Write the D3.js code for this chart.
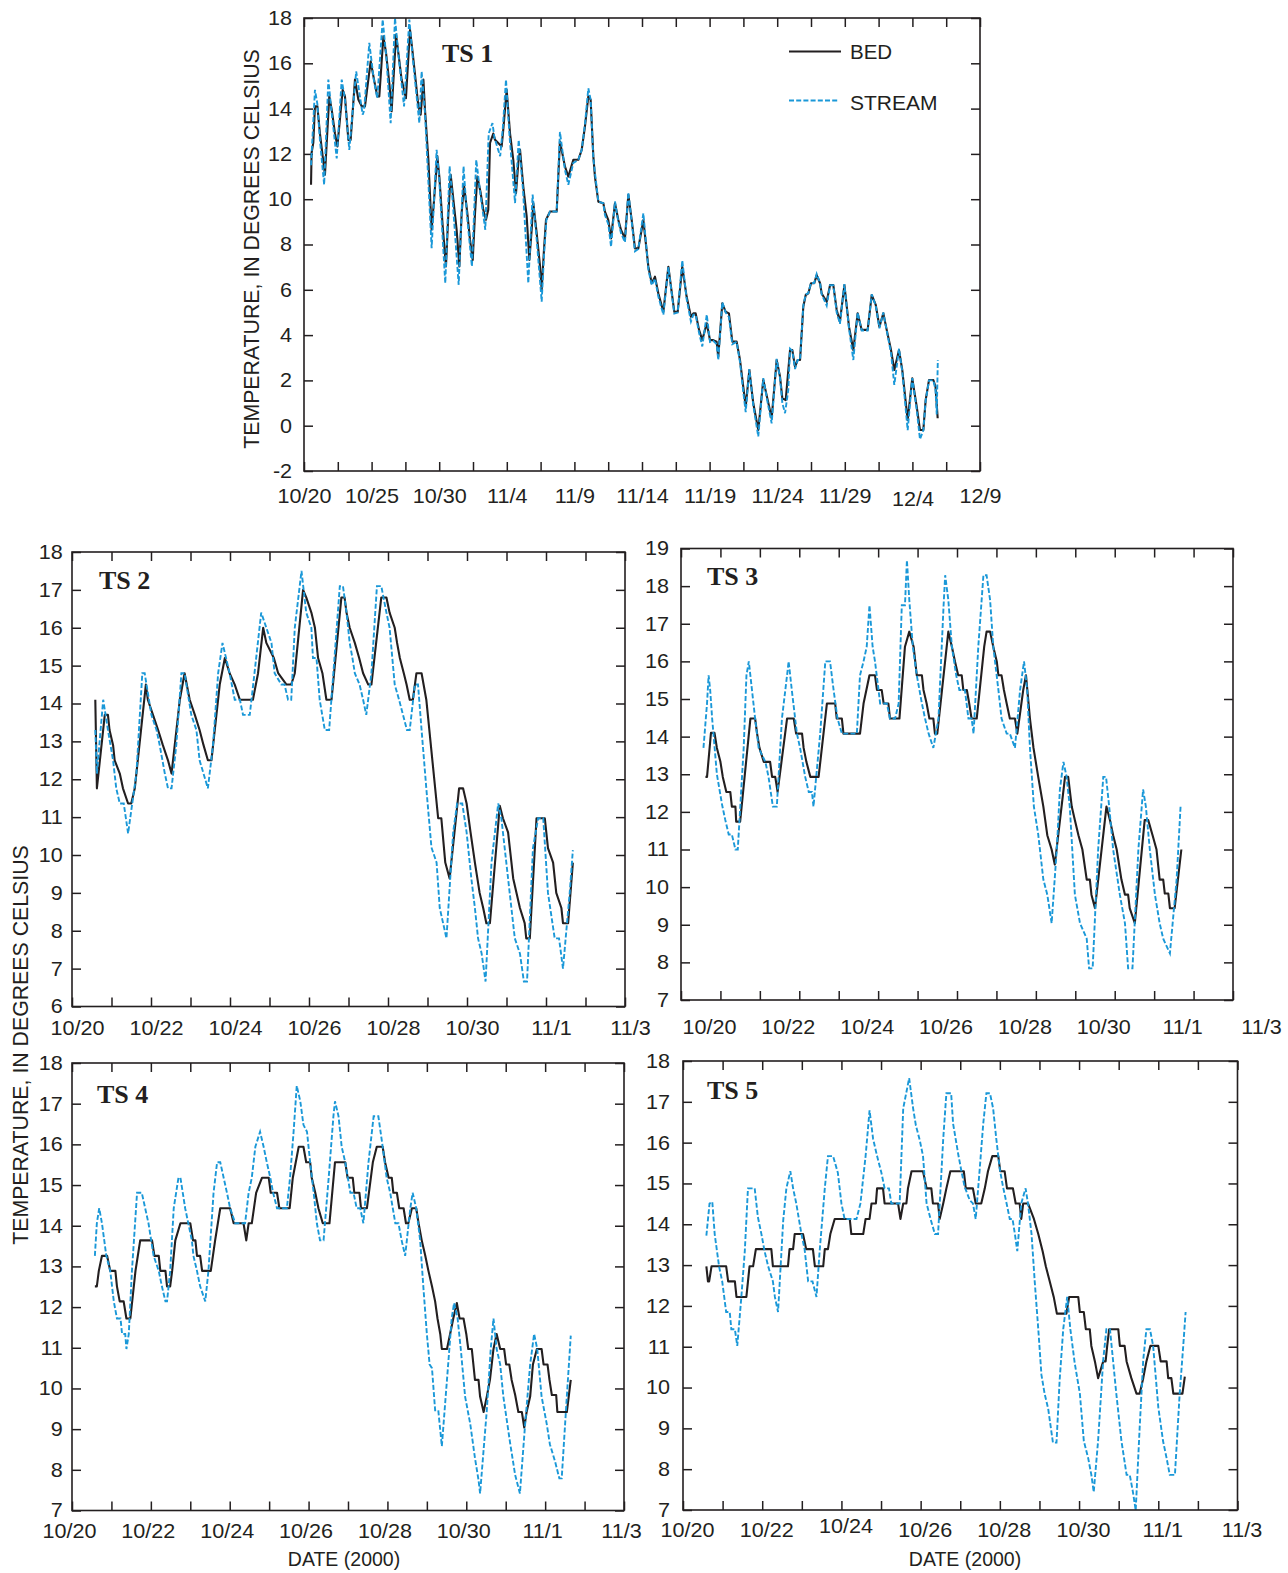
<!DOCTYPE html>
<html>
<head>
<meta charset="utf-8">
<script src="https://cdnjs.cloudflare.com/ajax/libs/d3/7.8.5/d3.min.js"></script>
<style>
  body { margin: 0; background: #fff; }
  .axis text { font-family: "Liberation Sans", Arial, sans-serif; font-size: 20px; fill: #231f20; }
  .axis line { stroke: #231f20; stroke-width: 1.5; }
  .title { font-family: "Liberation Serif", "Times New Roman", serif; font-weight: bold; font-size: 26px; fill: #231f20; }
  .label { font-family: "Liberation Sans", Arial, sans-serif; fill: #231f20; }
</style>
</head>
<body>
<script>
// Date labels and tick values (x in days after 10/20 00:00)
var ts1DateLabels = ["10/20", "10/25", "10/30", "11/4", "11/9", "11/14", "11/19", "11/24", "11/29", "12/4", "12/9"];
var ts1LabelDays = [0, 5, 10, 15, 20, 25, 30, 35, 40, 45, 50];
var shortDateLabels = ["10/20", "10/22", "10/24", "10/26", "10/28", "10/30", "11/1", "11/3"];
var shortLabelDays = [0, 2, 4, 6, 8, 10, 12, 14];

var ts1TempTicks = [-2, 0, 2, 4, 6, 8, 10, 12, 14, 16, 18];
var ts2TempTicks = [6, 7, 8, 9, 10, 11, 12, 13, 14, 15, 16, 17, 18];
var ts3TempTicks = [7, 8, 9, 10, 11, 12, 13, 14, 15, 16, 17, 18, 19];
var ts45TempTicks = [7, 8, 9, 10, 11, 12, 13, 14, 15, 16, 17, 18];

// [day, temperature]
var ts1Bed = [[0.52,10.64],[0.56,12.04],[0.69,12.5],[0.81,14.1],[0.99,14.1],[1.18,12.9],[1.38,11.9],[1.55,11.08],[1.87,14.54],[2.05,13.95],[2.29,12.9],[2.47,12.33],[2.86,14.83],[3.03,14.54],[3.28,12.62],[3.45,12.62],[3.77,15.28],[4.02,14.4],[4.27,14.1],[4.51,14.1],[4.93,16.09],[5.18,15.28],[5.42,14.54],[5.57,14.54],[5.87,17.19],[6.07,16.45],[6.31,15.13],[6.48,13.88],[6.81,17.26],[6.98,16.45],[7.22,15.28],[7.54,14.46],[7.84,17.48],[8.04,16.45],[8.28,15.13],[8.46,14.1],[8.63,13.73],[8.83,15.28],[8.95,13.95],[9.2,11.74],[9.44,8.65],[9.62,9.97],[9.86,11.9],[10.01,11.0],[10.26,8.8],[10.5,7.03],[10.68,9.38],[10.85,11.08],[11.05,9.97],[11.29,8.65],[11.49,7.03],[11.66,9.38],[11.83,10.64],[12.08,9.38],[12.28,8.2],[12.48,7.32],[12.65,9.38],[12.82,11.0],[13.07,10.27],[13.26,9.53],[13.46,9.09],[13.63,9.53],[13.76,12.48],[14.0,12.9],[14.13,12.62],[14.62,12.33],[14.74,13.07],[14.99,14.83],[15.24,12.9],[15.48,11.74],[15.68,10.27],[15.85,11.6],[15.98,12.18],[16.22,10.56],[16.47,9.24],[16.67,7.32],[16.84,8.65],[16.96,9.83],[17.21,8.5],[17.46,7.03],[17.58,6.0],[17.75,7.77],[17.9,9.09],[18.2,9.46],[18.69,9.46],[18.93,12.55],[19.3,11.45],[19.55,11.0],[19.92,11.74],[20.29,11.74],[20.54,12.18],[20.78,13.2],[21.03,14.54],[21.2,14.4],[21.4,11.9],[21.52,10.99],[21.77,9.89],[22.14,9.82],[22.26,9.45],[22.51,9.08],[22.71,8.27],[23.0,9.82],[23.25,9.08],[23.45,8.64],[23.74,8.27],[23.99,10.19],[24.24,9.08],[24.48,7.83],[24.73,7.83],[25.1,9.08],[25.47,7.02],[25.72,6.29],[25.96,6.58],[26.21,5.84],[26.58,5.03],[26.95,7.02],[27.39,5.03],[27.64,5.03],[27.98,7.02],[28.3,5.7],[28.62,4.81],[28.8,4.96],[28.97,4.96],[29.22,4.23],[29.46,3.78],[29.79,4.52],[30.03,3.78],[30.27,3.78],[30.52,3.71],[30.64,3.05],[30.94,5.4],[31.19,5.03],[31.43,4.96],[31.68,3.71],[32.0,3.71],[32.25,2.9],[32.49,1.72],[32.67,0.84],[32.94,2.46],[33.23,0.99],[33.6,-0.19],[33.97,2.02],[34.3,1.13],[34.59,0.33],[34.96,2.9],[35.21,2.16],[35.38,1.21],[35.63,1.13],[35.95,3.34],[36.12,3.34],[36.32,2.6],[36.51,2.9],[36.69,2.9],[36.93,5.25],[37.11,5.77],[37.3,5.84],[37.5,6.29],[37.74,6.29],[37.92,6.65],[38.17,6.29],[38.29,5.84],[38.66,5.47],[38.91,6.21],[39.15,6.21],[39.4,5.11],[39.64,4.59],[39.97,6.21],[40.31,4.37],[40.63,3.34],[40.95,4.96],[41.25,4.23],[41.69,4.23],[41.99,5.77],[42.29,5.33],[42.56,4.37],[42.85,4.96],[43.1,4.23],[43.42,3.34],[43.66,2.46],[44.01,3.34],[44.25,2.46],[44.65,0.25],[44.99,2.09],[45.32,0.84],[45.56,-0.19],[45.81,-0.19],[45.98,1.13],[46.23,2.02],[46.55,2.02],[46.71,1.72],[46.87,0.33]];
var ts1Stream = [[0.52,11.5],[0.81,14.83],[0.99,14.2],[1.18,12.6],[1.49,10.64],[1.8,15.28],[2.05,13.8],[2.42,11.8],[2.79,15.28],[3.03,14.4],[3.35,12.18],[3.86,15.64],[4.34,13.73],[4.44,13.9],[4.83,16.9],[5.18,15.2],[5.42,14.46],[5.82,17.93],[6.1,16.2],[6.41,13.36],[6.73,18.0],[7.0,16.3],[7.4,14.1],[7.79,17.93],[8.05,16.2],[8.53,13.36],[8.7,15.64],[8.95,13.8],[9.44,7.84],[9.81,12.18],[10.0,10.9],[10.45,6.29],[10.77,11.45],[11.0,9.9],[11.44,6.22],[11.8,11.45],[12.05,9.3],[12.42,7.03],[12.74,11.74],[13.05,10.2],[13.41,8.65],[13.66,12.9],[13.94,13.36],[14.09,12.7],[14.51,11.9],[14.7,13.1],[14.94,15.28],[15.2,12.8],[15.61,9.83],[15.88,12.62],[16.2,10.4],[16.59,6.29],[16.91,10.2],[17.2,8.3],[17.58,5.48],[17.76,7.6],[17.93,9.09],[18.2,9.46],[18.69,9.46],[18.93,12.97],[19.3,11.3],[19.55,10.64],[19.92,11.6],[20.29,11.74],[20.54,12.18],[20.78,13.3],[21.03,14.9],[21.2,14.4],[21.4,11.8],[21.65,10.5],[21.77,9.9],[22.14,9.82],[22.26,9.3],[22.51,8.9],[22.71,7.9],[23.0,9.9],[23.25,9.0],[23.45,8.5],[23.74,8.1],[23.99,10.3],[24.24,9.0],[24.48,7.7],[24.73,7.8],[25.1,9.38],[25.47,6.9],[25.72,6.2],[25.96,6.5],[26.21,5.7],[26.58,4.9],[26.95,7.0],[27.39,4.95],[27.64,5.0],[27.98,7.3],[28.3,5.6],[28.62,4.6],[28.8,4.9],[28.97,4.9],[29.22,4.1],[29.46,3.5],[29.79,4.9],[30.03,3.7],[30.27,3.75],[30.52,3.6],[30.64,2.9],[30.94,5.45],[31.19,5.0],[31.43,4.8],[31.68,3.6],[32.0,3.7],[32.25,2.8],[32.49,1.5],[32.67,0.6],[32.94,2.5],[33.23,0.9],[33.6,-0.48],[33.97,2.1],[34.3,1.0],[34.59,0.1],[34.96,2.95],[35.21,2.1],[35.38,1.0],[35.58,0.55],[35.82,1.58],[35.95,3.4],[36.12,3.3],[36.32,2.5],[36.51,2.9],[36.69,2.9],[36.93,5.3],[37.11,5.8],[37.3,5.85],[37.5,6.3],[37.74,6.3],[37.92,6.7],[38.17,6.3],[38.29,5.8],[38.66,5.3],[38.91,6.2],[39.15,6.2],[39.4,5.0],[39.64,4.5],[39.97,6.25],[40.31,4.3],[40.63,2.9],[40.95,5.0],[41.25,4.2],[41.69,4.2],[41.99,5.8],[42.29,5.3],[42.56,4.3],[42.85,5.0],[43.1,4.2],[43.42,3.2],[43.66,1.8],[44.01,3.4],[44.25,2.4],[44.65,-0.2],[44.99,2.1],[45.32,0.7],[45.56,-0.6],[45.81,-0.2],[45.98,1.1],[46.23,2.0],[46.55,2.0],[46.71,1.6],[46.8,0.5],[46.88,2.9]];

var ts2Bed = [[0.59,14.1],[0.63,11.76],[0.83,13.7],[0.91,13.7],[0.95,13.3],[1.04,12.9],[1.08,12.5],[1.21,12.15],[1.29,11.76],[1.42,11.36],[1.5,11.36],[1.59,11.76],[1.87,14.5],[1.92,14.1],[2.05,13.7],[2.18,13.3],[2.3,12.9],[2.43,12.5],[2.52,12.15],[2.73,14.1],[2.85,14.8],[2.98,14.1],[3.11,13.7],[3.23,13.3],[3.33,12.9],[3.44,12.5],[3.53,12.5],[3.74,14.5],[3.87,15.2],[3.99,14.8],[4.12,14.5],[4.25,14.1],[4.58,14.1],[4.71,14.8],[4.84,16.0],[4.92,15.6],[5.11,15.2],[5.22,14.8],[5.43,14.5],[5.55,14.5],[5.64,14.8],[5.85,17.0],[5.93,16.8],[6.06,16.4],[6.15,16.0],[6.23,15.2],[6.34,14.8],[6.44,14.1],[6.57,14.1],[6.82,16.8],[6.9,16.8],[6.95,16.4],[7.03,16.0],[7.16,15.6],[7.27,15.2],[7.37,14.8],[7.5,14.5],[7.58,14.5],[7.83,16.8],[7.96,16.8],[8.04,16.4],[8.17,16.0],[8.23,15.6],[8.3,15.2],[8.4,14.8],[8.47,14.5],[8.55,14.1],[8.63,14.1],[8.72,14.8],[8.85,14.8],[8.97,14.1],[9.27,10.97],[9.35,10.97],[9.45,9.8],[9.56,9.38],[9.8,11.76],[9.9,11.76],[9.99,11.36],[10.09,10.6],[10.2,9.8],[10.32,9.0],[10.41,8.6],[10.49,8.2],[10.58,8.2],[10.83,11.3],[10.91,10.97],[11.04,10.6],[11.17,9.38],[11.34,8.6],[11.46,8.2],[11.5,7.8],[11.59,7.8],[11.76,10.97],[11.97,10.97],[12.05,10.18],[12.18,9.8],[12.26,9.0],[12.39,8.6],[12.43,8.2],[12.56,8.2],[12.68,9.8]];
var ts2Stream = [[0.59,13.3],[0.63,12.15],[0.79,14.1],[0.91,13.3],[1.04,12.5],[1.12,11.76],[1.21,11.36],[1.31,11.36],[1.42,10.57],[1.63,12.15],[1.78,14.8],[1.84,14.8],[2.01,13.7],[2.14,13.3],[2.22,12.9],[2.35,12.15],[2.43,11.76],[2.52,11.76],[2.64,12.9],[2.77,14.8],[2.85,14.8],[3.02,13.7],[3.15,13.3],[3.23,12.5],[3.33,12.15],[3.44,11.76],[3.57,12.9],[3.7,14.8],[3.81,15.6],[3.99,14.8],[4.12,14.1],[4.25,14.1],[4.33,13.7],[4.5,13.7],[4.62,14.8],[4.79,16.4],[4.92,16.0],[5.05,15.6],[5.13,14.8],[5.3,14.5],[5.38,14.5],[5.47,14.1],[5.55,14.1],[5.64,16.0],[5.81,17.5],[5.93,16.4],[6.06,16.0],[6.1,15.2],[6.19,15.2],[6.27,14.1],[6.4,13.3],[6.51,13.3],[6.78,17.1],[6.86,17.1],[6.95,16.4],[7.03,15.6],[7.1,15.2],[7.16,14.8],[7.28,14.5],[7.37,14.1],[7.45,13.7],[7.58,14.8],[7.72,17.1],[7.83,17.1],[7.96,16.4],[8.04,16.0],[8.17,14.5],[8.28,14.1],[8.38,13.7],[8.48,13.3],[8.55,13.3],[8.68,14.5],[8.76,14.5],[8.85,13.3],[8.97,11.76],[9.1,10.2],[9.23,9.8],[9.31,8.6],[9.48,7.8],[9.65,10.6],[9.75,11.36],[9.88,11.36],[9.99,10.6],[10.11,9.38],[10.2,8.6],[10.28,7.8],[10.37,7.4],[10.47,6.66],[10.62,9.8],[10.79,11.36],[10.87,10.97],[11.04,9.38],[11.21,7.8],[11.34,7.4],[11.44,6.66],[11.52,6.66],[11.67,10.18],[11.8,10.97],[11.93,10.97],[12.05,9.0],[12.22,7.8],[12.33,7.8],[12.43,7.0],[12.6,9.0],[12.68,10.13]];

var ts3Bed = [[0.62,12.93],[0.66,12.93],[0.76,14.1],[0.85,14.1],[0.91,13.7],[1.0,13.33],[1.06,12.93],[1.15,12.53],[1.25,12.53],[1.29,12.14],[1.38,12.14],[1.4,11.74],[1.5,11.74],[1.76,14.48],[1.88,14.48],[1.93,14.08],[1.99,13.7],[2.1,13.33],[2.26,13.33],[2.31,12.93],[2.39,12.93],[2.45,12.53],[2.69,14.48],[2.86,14.48],[2.92,14.08],[3.07,14.08],[3.11,13.7],[3.18,13.33],[3.28,12.93],[3.49,12.93],[3.7,14.88],[3.91,14.88],[3.95,14.48],[4.08,14.48],[4.12,14.08],[4.54,14.08],[4.63,14.88],[4.78,15.63],[4.92,15.63],[4.97,15.24],[5.09,15.24],[5.14,14.88],[5.26,14.88],[5.3,14.48],[5.54,14.48],[5.68,16.39],[5.79,16.79],[5.9,16.39],[5.98,15.63],[6.11,15.63],[6.15,15.24],[6.23,14.88],[6.3,14.48],[6.4,14.48],[6.44,14.08],[6.5,14.08],[6.78,16.79],[6.87,16.39],[6.95,15.99],[7.03,15.63],[7.12,15.63],[7.16,15.24],[7.25,15.24],[7.31,14.88],[7.37,14.48],[7.5,14.48],[7.69,16.39],[7.75,16.79],[7.84,16.79],[7.92,16.39],[8.01,15.99],[8.05,15.63],[8.13,15.63],[8.19,15.24],[8.26,14.88],[8.34,14.48],[8.47,14.48],[8.53,14.08],[8.68,15.24],[8.75,15.63],[8.85,14.48],[8.94,13.7],[9.06,12.93],[9.19,12.14],[9.29,11.38],[9.4,11.0],[9.48,10.6],[9.74,12.93],[9.82,12.93],[9.91,12.14],[9.99,11.78],[10.08,11.38],[10.18,11.0],[10.29,10.2],[10.37,10.2],[10.41,9.8],[10.5,9.44],[10.79,12.14],[10.88,11.78],[10.96,11.38],[11.05,11.0],[11.17,10.2],[11.26,9.8],[11.34,9.8],[11.38,9.44],[11.51,9.04],[11.76,11.78],[11.85,11.78],[11.96,11.38],[12.06,11.0],[12.14,10.2],[12.23,10.2],[12.27,9.83],[12.36,9.83],[12.4,9.44],[12.52,9.44],[12.69,11.0]];
var ts3Stream = [[0.57,13.7],[0.66,14.88],[0.7,15.63],[0.74,15.24],[0.79,14.48],[0.91,13.0],[1.04,12.2],[1.12,11.8],[1.21,11.4],[1.29,11.4],[1.38,11.0],[1.44,11.0],[1.59,13.7],[1.66,15.63],[1.72,16.0],[1.8,15.24],[1.88,14.48],[1.97,13.7],[2.14,13.33],[2.22,12.93],[2.33,12.14],[2.43,12.14],[2.56,14.48],[2.69,15.63],[2.73,16.0],[2.81,15.24],[2.94,14.08],[3.02,13.7],[3.15,12.93],[3.24,12.53],[3.32,12.53],[3.36,12.14],[3.53,14.08],[3.66,16.0],[3.78,16.0],[3.87,15.24],[3.97,14.48],[4.08,14.08],[4.46,14.08],[4.54,15.63],[4.63,16.0],[4.71,16.39],[4.78,17.49],[4.86,16.39],[4.92,16.0],[5.01,15.24],[5.05,14.88],[5.22,14.88],[5.3,14.48],[5.43,14.48],[5.52,14.88],[5.6,17.49],[5.68,17.49],[5.73,18.69],[5.79,17.63],[5.88,16.39],[5.98,15.63],[6.11,14.88],[6.19,14.48],[6.28,14.08],[6.4,13.7],[6.53,14.48],[6.66,17.49],[6.7,18.29],[6.78,17.63],[6.87,16.39],[6.98,15.63],[7.06,15.24],[7.2,15.24],[7.29,14.48],[7.37,14.48],[7.42,14.08],[7.54,16.39],[7.67,18.29],[7.75,18.29],[7.84,17.63],[7.92,16.39],[8.05,15.24],[8.13,14.48],[8.26,14.08],[8.34,14.08],[8.47,13.7],[8.6,15.24],[8.7,16.0],[8.78,15.24],[8.85,13.7],[8.95,12.14],[9.06,11.4],[9.19,10.2],[9.29,9.8],[9.4,9.04],[9.53,11.0],[9.61,12.6],[9.7,13.33],[9.78,12.93],[9.86,12.14],[9.99,9.8],[10.12,9.04],[10.29,8.63],[10.35,7.84],[10.44,7.84],[10.58,11.0],[10.71,12.93],[10.78,12.93],[10.86,12.14],[10.96,11.0],[11.13,9.8],[11.26,9.04],[11.34,7.84],[11.45,7.84],[11.6,11.0],[11.72,12.6],[11.79,12.14],[11.89,11.0],[12.02,9.8],[12.14,9.04],[12.23,8.63],[12.4,8.24],[12.57,10.2],[12.67,12.14]];

var ts4Bed = [[0.58,12.51],[0.63,12.51],[0.68,12.89],[0.76,13.26],[0.89,13.26],[0.97,12.89],[1.1,12.89],[1.14,12.51],[1.21,12.14],[1.31,12.14],[1.38,11.72],[1.48,11.72],[1.61,12.89],[1.73,13.64],[2.03,13.64],[2.09,13.26],[2.2,13.26],[2.24,12.89],[2.37,12.89],[2.41,12.51],[2.49,12.51],[2.54,12.89],[2.62,13.64],[2.75,14.06],[3.0,14.06],[3.07,13.64],[3.13,13.64],[3.17,13.26],[3.25,13.26],[3.3,12.89],[3.52,12.89],[3.63,13.64],[3.76,14.43],[4.01,14.43],[4.1,14.06],[4.35,14.06],[4.42,13.64],[4.48,14.06],[4.56,14.06],[4.67,14.81],[4.82,15.18],[4.99,15.18],[5.04,14.81],[5.2,14.81],[5.26,14.43],[5.52,14.43],[5.6,15.18],[5.75,15.94],[5.87,15.94],[5.94,15.56],[6.04,15.56],[6.08,15.18],[6.17,14.81],[6.25,14.43],[6.36,14.06],[6.53,14.06],[6.67,15.56],[6.93,15.56],[6.99,15.18],[7.12,15.18],[7.16,14.81],[7.29,14.81],[7.33,14.43],[7.48,14.43],[7.63,15.56],[7.73,15.94],[7.88,15.94],[7.94,15.56],[8.03,15.18],[8.11,15.18],[8.15,14.81],[8.24,14.81],[8.3,14.43],[8.41,14.43],[8.47,14.06],[8.53,14.06],[8.62,14.43],[8.73,14.43],[8.79,14.06],[8.87,13.64],[8.96,13.26],[9.04,12.89],[9.13,12.51],[9.21,12.14],[9.27,11.72],[9.34,11.34],[9.38,10.97],[9.51,10.97],[9.59,11.34],[9.67,11.72],[9.76,12.1],[9.83,11.72],[9.93,11.72],[10.0,11.34],[10.05,10.97],[10.14,10.97],[10.22,10.21],[10.31,10.21],[10.35,9.8],[10.44,9.42],[10.52,9.8],[10.6,10.21],[10.69,10.97],[10.77,11.34],[10.86,10.97],[10.96,10.97],[11.01,10.59],[11.09,10.59],[11.15,10.21],[11.24,9.84],[11.32,9.42],[11.41,9.42],[11.47,9.04],[11.53,9.42],[11.62,9.8],[11.69,10.59],[11.79,10.97],[11.91,10.97],[11.96,10.59],[12.06,10.59],[12.11,10.21],[12.17,9.84],[12.28,9.84],[12.31,9.42],[12.55,9.42],[12.65,10.21]];
var ts4Stream = [[0.58,13.26],[0.63,14.06],[0.69,14.43],[0.76,14.06],[0.87,13.26],[0.97,12.89],[1.06,12.14],[1.14,11.72],[1.23,11.72],[1.27,11.34],[1.35,11.34],[1.38,10.97],[1.44,11.34],[1.52,12.89],[1.65,14.81],[1.77,14.81],[1.94,14.06],[2.07,13.26],[2.2,12.89],[2.28,12.51],[2.37,12.14],[2.41,12.14],[2.49,12.89],[2.58,14.43],[2.7,15.18],[2.75,15.18],[2.87,14.43],[3.04,13.64],[3.08,13.26],[3.17,12.89],[3.25,12.51],[3.38,12.14],[3.46,12.89],[3.59,14.81],[3.68,15.56],[3.76,15.56],[3.93,14.81],[4.01,14.43],[4.14,14.06],[4.39,14.06],[4.48,14.81],[4.56,15.18],[4.65,15.94],[4.77,16.31],[4.86,15.94],[4.94,15.56],[5.03,15.18],[5.1,14.81],[5.2,14.43],[5.45,14.43],[5.53,15.18],[5.62,16.31],[5.7,17.44],[5.79,17.06],[5.87,16.48],[5.96,16.31],[6.04,15.56],[6.13,14.81],[6.21,14.06],[6.29,13.64],[6.38,13.64],[6.51,15.18],[6.63,16.69],[6.67,17.06],[6.76,16.69],[6.84,15.94],[6.93,15.56],[7.06,14.81],[7.14,14.81],[7.22,14.43],[7.31,14.43],[7.39,14.06],[7.52,15.56],[7.65,16.69],[7.77,16.69],[7.88,15.94],[7.98,15.18],[8.07,14.81],[8.2,14.06],[8.28,14.06],[8.36,13.64],[8.45,13.26],[8.58,14.43],[8.64,14.81],[8.73,14.43],[8.83,13.64],[8.91,12.51],[9.0,11.34],[9.07,10.59],[9.13,10.5],[9.21,9.46],[9.29,9.46],[9.38,8.58],[9.51,10.21],[9.63,11.72],[9.69,12.1],[9.78,11.72],[9.86,10.97],[9.97,9.8],[10.1,9.13],[10.22,8.29],[10.31,7.75],[10.35,7.42],[10.52,9.46],[10.62,10.97],[10.69,11.72],[10.77,10.97],[10.86,10.59],[10.94,9.8],[11.11,8.67],[11.24,7.87],[11.36,7.42],[11.49,9.09],[11.62,10.59],[11.72,11.34],[11.8,10.97],[11.91,9.8],[12.04,9.13],[12.12,8.63],[12.25,8.21],[12.36,7.79],[12.42,7.79],[12.55,9.8],[12.65,11.3]];

var ts5Bed = [[0.59,12.97],[0.63,12.6],[0.66,12.6],[0.72,12.97],[1.09,12.97],[1.14,12.6],[1.31,12.6],[1.35,12.22],[1.6,12.22],[1.68,12.97],[1.77,12.97],[1.84,13.39],[2.23,13.39],[2.27,12.97],[2.65,12.97],[2.69,13.39],[2.78,13.39],[2.82,13.76],[3.03,13.76],[3.11,13.39],[3.28,13.39],[3.33,12.97],[3.54,12.97],[3.58,13.39],[3.66,13.39],[3.72,13.76],[3.83,14.13],[4.21,14.13],[4.25,13.76],[4.55,13.76],[4.61,14.13],[4.71,14.13],[4.76,14.51],[4.87,14.51],[4.9,14.88],[5.05,14.88],[5.09,14.51],[5.43,14.51],[5.49,14.13],[5.56,14.51],[5.64,14.51],[5.68,14.88],[5.77,15.3],[6.06,15.3],[6.15,14.88],[6.27,14.88],[6.31,14.51],[6.44,14.51],[6.48,14.13],[6.57,14.51],[6.65,14.88],[6.75,15.3],[7.09,15.3],[7.14,14.88],[7.32,14.88],[7.39,14.51],[7.53,14.51],[7.62,14.88],[7.7,15.3],[7.81,15.67],[7.96,15.67],[8.01,15.3],[8.12,15.3],[8.18,14.88],[8.33,14.88],[8.4,14.51],[8.5,14.51],[8.54,14.13],[8.59,14.51],[8.71,14.51],[8.86,14.13],[8.97,13.76],[9.08,13.34],[9.16,12.97],[9.26,12.6],[9.36,12.22],[9.44,11.81],[9.68,11.81],[9.75,12.22],[9.98,12.22],[10.02,11.85],[10.12,11.85],[10.17,11.43],[10.27,11.43],[10.31,11.02],[10.4,10.64],[10.48,10.23],[10.61,10.64],[10.67,10.64],[10.71,11.02],[10.76,11.43],[10.99,11.43],[11.03,11.02],[11.15,11.02],[11.2,10.64],[11.32,10.23],[11.45,9.85],[11.53,9.85],[11.62,10.23],[11.7,10.64],[11.8,11.02],[12.0,11.02],[12.06,10.64],[12.21,10.64],[12.25,10.23],[12.33,10.23],[12.38,9.85],[12.61,9.85],[12.67,10.27]];
var ts5Stream = [[0.59,13.72],[0.67,14.51],[0.74,14.55],[0.8,13.76],[0.91,12.97],[0.99,12.6],[1.09,11.85],[1.18,11.85],[1.22,11.43],[1.31,11.43],[1.37,11.02],[1.47,12.18],[1.56,13.34],[1.64,14.88],[1.81,14.88],[1.89,14.18],[1.98,13.76],[2.06,13.34],[2.15,12.97],[2.27,12.6],[2.32,12.22],[2.4,11.85],[2.53,14.09],[2.61,14.88],[2.71,15.3],[2.78,14.88],[2.86,14.51],[2.99,13.76],[3.07,13.39],[3.16,12.6],[3.27,12.6],[3.37,12.22],[3.45,13.34],[3.58,14.88],[3.66,15.67],[3.79,15.67],[3.91,15.26],[4.0,14.51],[4.08,14.13],[4.38,14.13],[4.48,14.51],[4.61,15.67],[4.71,16.79],[4.8,16.09],[4.9,15.67],[5.01,15.26],[5.09,14.88],[5.2,14.88],[5.26,14.51],[5.47,14.51],[5.56,16.84],[5.71,17.58],[5.81,16.84],[5.88,16.42],[5.98,16.05],[6.06,15.67],[6.15,14.51],[6.25,14.13],[6.36,13.76],[6.44,13.76],[6.57,16.09],[6.65,17.21],[6.77,17.21],[6.82,16.46],[6.95,15.71],[7.03,15.3],[7.11,14.92],[7.24,14.59],[7.32,14.51],[7.39,14.13],[7.49,15.34],[7.58,16.46],[7.66,17.21],[7.75,17.21],[7.83,16.84],[7.91,16.09],[8.0,15.34],[8.08,14.92],[8.17,14.51],[8.25,14.13],[8.32,14.13],[8.38,13.76],[8.44,13.34],[8.54,14.51],[8.65,14.88],[8.71,14.51],[8.8,13.76],[8.88,12.6],[8.97,11.43],[9.05,10.31],[9.13,9.85],[9.22,9.48],[9.34,8.65],[9.43,8.65],[9.51,10.19],[9.6,11.43],[9.7,12.22],[9.78,11.43],[9.89,10.6],[10.02,9.85],[10.12,8.69],[10.23,8.27],[10.31,7.86],[10.37,7.44],[10.48,8.69],[10.61,10.68],[10.69,11.43],[10.78,11.43],[10.86,10.64],[10.94,9.85],[11.07,8.69],[11.2,7.86],[11.28,7.86],[11.36,7.44],[11.43,6.99],[11.53,9.02],[11.62,10.68],[11.7,11.43],[11.79,11.43],[11.87,11.02],[12.0,9.52],[12.12,8.69],[12.21,8.27],[12.29,7.86],[12.42,7.86],[12.54,9.85],[12.63,11.02],[12.69,11.85]];

var svg = d3.select("body").append("svg")
  .attr("width", 1288)
  .attr("height", 1573);

// text in the original is a bit wider than Liberation Sans
var stretch = 1.08;

// Panel layout
var panels = [
  { name: "TS 1", left: 304, top: 18, right: 980, bottom: 471, xDomain: [0, 50], yDomain: [-2, 18],
    minorTicks: d3.range(0, 50.01, 2.5), labelDays: ts1LabelDays, labels: ts1DateLabels, yTicks: ts1TempTicks,
    xPad: 18, yPad: 11, labelDx: 0, labelShift: { "12/4": 3 }, titleX: 442, titleY: 62, bed: ts1Bed, stream: ts1Stream },
  { name: "TS 2", left: 72, top: 552, right: 625, bottom: 1006.5, xDomain: [0, 14], yDomain: [6, 18],
    minorTicks: d3.range(0, 14.01, 1), labelDays: shortLabelDays, labels: shortDateLabels, yTicks: ts2TempTicks,
    xPad: 14, yPad: 8.5, labelDx: 5, labelShift: {}, titleX: 99, titleY: 589, bed: ts2Bed, stream: ts2Stream },
  { name: "TS 3", left: 681, top: 548.5, right: 1233, bottom: 1000, xDomain: [0, 14], yDomain: [7, 19],
    minorTicks: d3.range(0, 14.01, 1), labelDays: shortLabelDays, labels: shortDateLabels, yTicks: ts3TempTicks,
    xPad: 20, yPad: 11, labelDx: 28, labelShift: {}, titleX: 707, titleY: 585, bed: ts3Bed, stream: ts3Stream },
  { name: "TS 4", left: 72, top: 1063, right: 624, bottom: 1510.5, xDomain: [0, 14], yDomain: [7, 18],
    minorTicks: d3.range(0, 14.01, 1), labelDays: shortLabelDays, labels: shortDateLabels, yTicks: ts45TempTicks,
    xPad: 13, yPad: 8.5, labelDx: -3, labelShift: {}, titleX: 97, titleY: 1103, bed: ts4Bed, stream: ts4Stream },
  { name: "TS 5", left: 683, top: 1061, right: 1237.5, bottom: 1510, xDomain: [0, 14], yDomain: [7, 18],
    minorTicks: d3.range(0, 14.01, 1), labelDays: shortLabelDays, labels: shortDateLabels, yTicks: ts45TempTicks,
    xPad: 13, yPad: 12, labelDx: 4, labelShift: { "10/24": -4 }, titleX: 707, titleY: 1099, bed: ts5Bed, stream: ts5Stream }
];

var bedColor = "#231f20";
var streamColor = "#1a98d8";

panels.forEach(function(p, k) {
  var w = p.right - p.left;
  var h = p.bottom - p.top;

  var xScale = d3.scaleLinear().domain(p.xDomain).range([0, w]);
  var yScale = d3.scaleLinear().domain(p.yDomain).range([h, 0]);

  var g = svg.append("g").attr("transform", `translate(${p.left}, ${p.top})`);

  g.append("clipPath").attr("id", "clip" + k)
    .append("rect").attr("width", w).attr("height", h);

  // inward ticks on all four sides
  g.append("g").attr("class", "axis").attr("transform", `translate(0, ${h})`)
    .call(d3.axisBottom(xScale).tickValues(p.minorTicks).tickSize(-9).tickFormat(""));
  g.append("g").attr("class", "axis")
    .call(d3.axisTop(xScale).tickValues(p.minorTicks).tickSize(-9).tickFormat(""));
  var tempAxis = g.append("g").attr("class", "axis")
    .call(d3.axisLeft(yScale).tickValues(p.yTicks).tickSize(-9).tickPadding(p.yPad).tickFormat(d => String(d)));
  tempAxis.selectAll("text").attr("transform", `scale(${stretch}, 1)`);
  g.append("g").attr("class", "axis").attr("transform", `translate(${w}, 0)`)
    .call(d3.axisRight(yScale).tickValues(p.yTicks).tickSize(-9).tickFormat(""));

  // date labels
  var dateAxis = g.append("g").attr("class", "axis").attr("transform", `translate(0, ${h})`)
    .call(d3.axisBottom(xScale).tickValues(p.labelDays).tickSize(0).tickPadding(p.xPad)
      .tickFormat((d, i) => p.labels[i]));
  dateAxis.selectAll("text")
    .attr("transform", function(d, i) {
      return `translate(${p.labelDx}, ${p.labelShift[p.labels[i]] || 0}) scale(${stretch}, 1)`;
    });

  g.selectAll(".domain").remove();

  var line = d3.line()
    .x(d => xScale(d[0]))
    .y(d => yScale(d[1]));

  g.append("path")
    .datum(p.bed)
    .attr("clip-path", `url(#clip${k})`)
    .attr("d", line)
    .attr("fill", "none")
    .attr("stroke", bedColor)
    .attr("stroke-width", 2.1)
    .attr("stroke-linejoin", "round");

  g.append("path")
    .datum(p.stream)
    .attr("clip-path", `url(#clip${k})`)
    .attr("d", line)
    .attr("fill", "none")
    .attr("stroke", streamColor)
    .attr("stroke-width", 1.9)
    .attr("stroke-dasharray", "5,2.2");

  // frame
  g.append("rect")
    .attr("width", w)
    .attr("height", h)
    .attr("fill", "none")
    .attr("stroke", "#231f20")
    .attr("stroke-width", 1.6);

  svg.append("text")
    .attr("class", "title")
    .attr("x", p.titleX)
    .attr("y", p.titleY)
    .text(p.name);
});

// legend in TS 1
svg.append("line").attr("x1", 789).attr("x2", 841).attr("y1", 51.5).attr("y2", 51.5)
  .attr("stroke", bedColor).attr("stroke-width", 2.1);
svg.append("text").attr("class", "label").attr("x", 850).attr("y", 59).attr("font-size", "20.5px").text("BED");
svg.append("line").attr("x1", 789).attr("x2", 839).attr("y1", 100.5).attr("y2", 100.5)
  .attr("stroke", streamColor).attr("stroke-width", 1.9).attr("stroke-dasharray", "5,2.2");
svg.append("text").attr("class", "label").attr("x", 850).attr("y", 110).attr("font-size", "21px").text("STREAM");

// axis titles
svg.append("text").attr("class", "label")
  .attr("transform", "translate(259, 249) rotate(-90)")
  .attr("text-anchor", "middle").attr("font-size", "21.3px")
  .text("TEMPERATURE, IN DEGREES CELSIUS");
svg.append("text").attr("class", "label")
  .attr("transform", "translate(28, 1045) rotate(-90)")
  .attr("text-anchor", "middle").attr("font-size", "21.3px")
  .text("TEMPERATURE, IN DEGREES CELSIUS");
svg.append("text").attr("class", "label")
  .attr("x", 344).attr("y", 1566).attr("text-anchor", "middle").attr("font-size", "19.5px")
  .text("DATE (2000)");
svg.append("text").attr("class", "label")
  .attr("x", 965).attr("y", 1566).attr("text-anchor", "middle").attr("font-size", "19.5px")
  .text("DATE (2000)");
</script>
</body>
</html>
